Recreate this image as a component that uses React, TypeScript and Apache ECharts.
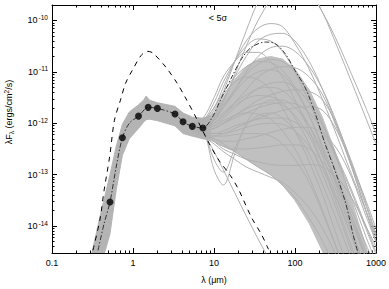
import React, { useEffect, useRef } from 'react';
import * as echarts from 'echarts';

// plotting unit for the flux axis (values are divided by it before plotting)
const Y_UNIT = 1e-15;
const FONT = 'Liberation Sans, Arial, sans-serif';
const GRAY = '#b4b4b4';
const LINE_GRAY = '#b0b0b0';
const CORE_GRAY = '#c0c0c0';

// observed photometry (wavelength in micron, log10 lambda*F_lambda)
const PHOT_WL = [0.52, 0.74, 1.17, 1.54, 2.0, 3.3, 4.15, 5.4, 7.3];
const PHOT_LOGF = [-13.53, -12.28, -11.86, -11.69, -11.71, -11.82, -11.97, -12.06, -12.09];

// best-fit model (dash-dot)
const BEST_WL = [0.37, 0.44, 0.52, 0.62, 0.74, 0.9, 1.17, 1.54, 2.0, 3.3, 4.15, 5.4, 7.3, 9.4, 12, 16.6, 22, 29, 43, 57, 76, 100, 133, 177, 234, 310, 413, 475, 522, 600];
const BEST_LOGF = [-14.47, -13.95, -13.53, -12.85, -12.28, -12.0, -11.86, -11.69, -11.71, -11.82, -11.97, -12.06, -12.09, -11.9, -11.55, -11.1, -10.74, -10.52, -10.42, -10.45, -10.65, -10.97, -11.3, -11.8, -12.39, -12.91, -13.5, -13.88, -14.17, -14.52];

// unextinguished stellar photosphere (dashed)
const STAR_WL = [0.32, 0.39, 0.44, 0.515, 0.59, 0.7, 0.81, 0.98, 1.26, 1.5, 1.75, 2.55, 3.44, 4.4, 6.2, 8.7, 11.5, 16, 20.3, 29, 38.8, 47];
const STAR_LOGF = [-14.47, -13.88, -13.3, -12.65, -11.94, -11.55, -11.22, -10.97, -10.68, -10.6, -10.63, -10.91, -11.2, -11.49, -11.93, -12.39, -12.72, -13.02, -13.3, -13.83, -14.17, -14.45];

// grey band of acceptable models in the optical / near-IR
const BAND_WL = [0.3, 0.4, 0.52, 0.62, 0.74, 0.9, 1.17, 1.35, 1.45, 1.6, 2.0, 3.3, 4.15, 5.4, 7.3, 9.0];
const BAND_HI = [-14.63, -13.75, -13.0, -12.45, -12.02, -11.78, -11.64, -11.55, -11.47, -11.55, -11.6, -11.67, -11.8, -11.88, -11.9, -11.85];
const BAND_LO = [-15.8, -14.78, -14.15, -13.3, -12.62, -12.3, -12.1, -11.98, -11.93, -11.92, -11.95, -12.05, -12.2, -12.25, -12.3, -12.3];

// acceptable models in the mid / far-IR
const MODEL_WL = [5.4, 7.3, 10, 13, 18, 25, 35, 50, 70, 100, 150, 220, 330, 500, 750, 1000];
const CORE_HI = [-11.95, -11.95, -11.8, -11.5, -11.15, -10.9, -10.75, -10.7, -10.75, -10.95, -11.35, -11.9, -12.65, -13.5, -14.4, -15.0];
const CORE_LO = [-12.2, -12.3, -12.35, -12.45, -12.55, -12.7, -12.85, -13.0, -13.2, -13.5, -13.95, -14.5, -15.1, -15.8, -16.5, -17.0];
const MODEL_LOGF = [
  [-12.05, -12.1, -11.9, -11.4, -10.8, -10.2, -9.65, -9.35, -9.15, -9.15, -9.4, -9.85, -10.5, -11.2, -11.9, -12.4],
  [-12.05, -12.1, -11.95, -11.6, -11.05, -10.5, -10.0, -9.6, -9.35, -9.3, -9.45, -9.85, -10.4, -11.05, -11.7, -12.2],
  [-12.0, -11.95, -11.7, -11.3, -10.8, -10.4, -10.15, -10.06, -10.12, -10.45, -10.95, -11.55, -12.25, -13.0, -13.7, -14.2],
  [-12.05, -12.0, -11.85, -11.55, -11.1, -10.7, -10.4, -10.27, -10.25, -10.4, -10.8, -11.35, -12.05, -12.85, -13.7, -14.3],
  [-12.0, -11.95, -11.6, -11.2, -10.8, -10.5, -10.36, -10.4, -10.6, -11.0, -11.6, -12.25, -13.0, -13.8, -14.6, -15.1],
  [-12.05, -12.05, -11.95, -11.7, -11.35, -11.0, -10.7, -10.53, -10.5, -10.6, -10.9, -11.35, -12.0, -12.8, -13.6, -14.2],
  [-12.0, -11.9, -11.5, -11.1, -10.8, -10.62, -10.62, -10.8, -11.1, -11.55, -12.15, -12.8, -13.6, -14.4, -15.2, -15.7],
  [-12.05, -12.05, -11.9, -11.65, -11.35, -11.05, -10.85, -10.76, -10.8, -11.0, -11.45, -12.0, -12.7, -13.45, -14.2, -14.7],
  [-12.05, -12.1, -12.0, -11.85, -11.6, -11.35, -11.1, -10.95, -10.9, -10.92, -11.1, -11.45, -12.1, -12.85, -13.7, -14.3],
  [-12.05, -12.05, -11.9, -11.7, -11.4, -11.15, -11.0, -10.96, -11.05, -11.35, -11.85, -12.45, -13.15, -13.9, -14.65, -15.2],
  [-12.05, -12.0, -11.75, -11.45, -11.2, -11.1, -11.15, -11.35, -11.7, -12.15, -12.75, -13.4, -14.2, -15.0, -15.8, -16.3],
  [-12.1, -12.1, -12.05, -11.9, -11.7, -11.5, -11.32, -11.22, -11.2, -11.3, -11.6, -12.05, -12.65, -13.3, -14.0, -14.5],
  [-12.1, -12.15, -12.1, -12.0, -11.85, -11.7, -11.55, -11.45, -11.38, -11.35, -11.38, -11.55, -12.05, -12.75, -13.55, -14.15],
  [-12.05, -12.1, -12.0, -11.85, -11.65, -11.52, -11.46, -11.48, -11.6, -11.9, -12.4, -13.0, -13.7, -14.5, -15.3, -15.8],
  [-12.1, -12.15, -12.1, -12.0, -11.85, -11.72, -11.63, -11.6, -11.65, -11.85, -12.25, -12.8, -13.45, -14.2, -14.95, -15.5],
  [-12.1, -12.15, -12.2, -12.2, -12.1, -12.0, -11.9, -11.82, -11.75, -11.7, -11.68, -11.75, -12.15, -12.8, -13.5, -14.05],
  [-12.05, -12.1, -12.05, -11.95, -11.85, -11.8, -11.82, -11.92, -12.15, -12.5, -13.05, -13.7, -14.45, -15.3, -16.0, -16.5],
  [-12.1, -12.2, -12.25, -12.2, -12.15, -12.08, -12.02, -12.0, -12.02, -12.15, -12.45, -12.9, -13.5, -14.2, -14.9, -15.4],
  [-12.1, -12.2, -12.25, -12.25, -12.22, -12.2, -12.2, -12.25, -12.4, -12.7, -13.15, -13.75, -14.45, -15.2, -16.0, -16.5],
  [-12.1, -12.2, -12.35, -12.45, -12.5, -12.5, -12.48, -12.45, -12.42, -12.42, -12.5, -12.75, -13.15, -13.7, -14.35, -14.8],
  [-12.1, -12.2, -12.3, -12.4, -12.55, -12.7, -12.85, -13.0, -13.2, -13.45, -13.85, -14.3, -14.9, -15.6, -16.3, -16.8],
  [-12.15, -12.25, -12.4, -12.55, -12.7, -12.85, -12.95, -13.05, -13.15, -13.35, -13.65, -14.05, -14.6, -15.2, -15.9, -16.4],
  [-12.0, -12.1, -12.9, -13.2, -12.6, -12.0, -11.7, -11.55, -11.55, -11.7, -12.05, -12.55, -13.2, -13.9, -14.6, -15.1],
  [-12.05, -12.15, -12.7, -12.95, -12.5, -12.05, -11.85, -11.8, -11.9, -12.15, -12.6, -13.2, -13.9, -14.65, -15.4, -15.9],
  [-12.05, -12.2, -12.55, -12.9, -13.35, -13.8, -14.25, -14.7, -15.2, -15.7, -16.3, -16.8, -17.4, -18.0, -18.6, -19.0],
  [-12.1, -12.2, -12.35, -12.5, -12.6, -12.7, -12.75, -12.8, -12.82, -12.82, -12.8, -12.85, -13.05, -13.45, -14.0, -14.4],
  [-12.1, -12.2, -12.3, -12.35, -12.35, -12.3, -12.25, -12.18, -12.12, -12.08, -12.08, -12.2, -12.5, -13.05, -13.8, -14.3],
  [-12.1, -12.15, -12.1, -12.0, -11.9, -11.8, -11.7, -11.63, -11.6, -11.62, -11.8, -12.15, -12.7, -13.35, -14.05, -14.55],
  [-12.0, -11.95, -11.7, -11.4, -11.1, -10.9, -10.8, -10.82, -10.97, -11.3, -11.85, -12.5, -13.25, -14.05, -14.85, -15.4],
  [-12.05, -12.05, -11.95, -11.8, -11.6, -11.45, -11.33, -11.3, -11.36, -11.6, -12.05, -12.65, -13.35, -14.1, -14.85, -15.4],
  [-12.1, -12.2, -12.2, -12.15, -12.05, -11.98, -11.92, -11.9, -11.9, -11.98, -12.2, -12.6, -13.15, -13.8, -14.5, -15.0],
];

const X_MIN = 0.1;
const X_MAX = 1000;
const Y_MIN = 3e-15;
const Y_MAX = 2e-10;

const toY = (logF: number) => Math.pow(10, logF) / Y_UNIT;
const pairs = (wl: number[], logf: number[]) => wl.map((w, i) => [w, toY(logf[i])]);

export default function App() {
  const ref = useRef<HTMLDivElement>(null);
  useEffect(() => {
    if (!ref.current) return;
    const chart = echarts.init(ref.current, undefined, { renderer: 'svg' });

    const axisLine = { show: true, lineStyle: { color: '#000', width: 1 } };
    const axisTick = { show: true, inside: true, length: 5, lineStyle: { color: '#000', width: 1 } };
    const minorTick = { show: true, splitNumber: 9, length: 2.5, lineStyle: { color: '#000', width: 1 } };

    const xFormatter = (v: number) => {
      const l = Math.log10(v);
      if (Math.abs(l - Math.round(l)) > 0.02) return '';
      return String(+v.toPrecision(3));
    };
    const yFormatter = (v: number) => {
      const l = Math.log10(v);
      const e = Math.round(l);
      if (Math.abs(l - e) > 0.02) return '';
      const exp = e + Math.round(Math.log10(Y_UNIT));
      return `{b|10}{s|${exp}}`;
    };

    const fillSeries = {
      type: 'custom',
      silent: true,
      z: 1,
      data: [[1, 100]],
      renderItem: (params: any, api: any) => {
        const cs = params.coordSys;
        const poly = (wl: number[], hi: number[], lo: number[], color: string) => {
          const pts: number[][] = [];
          for (let i = 0; i < wl.length; i++) pts.push(api.coord([wl[i], toY(hi[i])]));
          for (let i = wl.length - 1; i >= 0; i--) pts.push(api.coord([wl[i], toY(lo[i])]));
          return { type: 'polygon', shape: { points: pts, smooth: 0 }, style: { fill: color, stroke: color, lineWidth: 1 } };
        };
        return {
          type: 'group',
          clipPath: { type: 'rect', shape: { x: cs.x, y: cs.y, width: cs.width, height: cs.height } },
          children: [poly(MODEL_WL, CORE_HI, CORE_LO, CORE_GRAY), poly(BAND_WL, BAND_HI, BAND_LO, GRAY)],
        };
      },
    };

    const modelSeries = MODEL_LOGF.map((m) => ({
      type: 'line',
      silent: true,
      z: 2,
      data: pairs(MODEL_WL, m),
      showSymbol: false,
      symbol: 'none',
      smooth: 0.35,
      clip: true,
      lineStyle: { color: LINE_GRAY, width: 1 },
    }));

    const option: any = {
      animation: false,
      grid: { left: 52, right: 10, top: 5, bottom: 36, containLabel: false },
      xAxis: [
        {
          type: 'log', logBase: 10, min: X_MIN, max: X_MAX, position: 'bottom',
          axisLine, axisTick, minorTick, splitLine: { show: false }, minorSplitLine: { show: false },
          axisLabel: { formatter: xFormatter, color: '#000', fontSize: 9, margin: 5, fontFamily: FONT },
          name: 'λ (μm)', nameLocation: 'middle', nameGap: 22,
          nameTextStyle: { color: '#000', fontSize: 9, fontFamily: FONT },
        },
        {
          type: 'log', logBase: 10, min: X_MIN, max: X_MAX, position: 'top',
          axisLine, axisTick, minorTick, splitLine: { show: false },
          axisLabel: { show: false },
        },
      ],
      yAxis: [
        {
          type: 'log', logBase: 10, min: Y_MIN / Y_UNIT, max: Y_MAX / Y_UNIT, position: 'left',
          axisLine, axisTick, minorTick, splitLine: { show: false }, minorSplitLine: { show: false },
          axisLabel: {
            formatter: yFormatter, color: '#000', margin: 4, fontFamily: FONT,
            rich: {
              b: { fontSize: 9, fontFamily: FONT, color: '#000' },
              s: { fontSize: 6.5, fontFamily: FONT, color: '#000', padding: [0, 0, 6, 1] },
            },
          },
        },
        {
          type: 'log', logBase: 10, min: Y_MIN / Y_UNIT, max: Y_MAX / Y_UNIT, position: 'right',
          axisLine, axisTick, minorTick, splitLine: { show: false },
          axisLabel: { show: false },
        },
      ],
      graphic: [
        {
          type: 'text', x: 9, y: 112, rotation: Math.PI / 2,
          style: {
            text: 'λF{s|λ} (ergs/cm{p|2}/s)', fill: '#000', font: `9px ${FONT}`,
            align: 'center', verticalAlign: 'middle',
            rich: {
              s: { fontSize: 6.5, fontFamily: FONT, padding: [4, 0, 0, 0] },
              p: { fontSize: 6.5, fontFamily: FONT, padding: [0, 0, 5, 0] },
            },
          },
        },
        {
          type: 'text', x: 218, y: 18,
          style: { text: '< 5σ', fill: '#000', font: `9px ${FONT}`, align: 'center', verticalAlign: 'middle' },
        },
      ],
      series: [
        fillSeries,
        ...modelSeries,
        {
          type: 'line', silent: true, z: 3, data: pairs(STAR_WL, STAR_LOGF),
          showSymbol: false, symbol: 'none', smooth: 0.3, clip: true,
          lineStyle: { color: '#000', width: 1, type: [5, 5] },
        },
        {
          type: 'line', silent: true, z: 4, data: pairs(BEST_WL, BEST_LOGF),
          showSymbol: false, symbol: 'none', smooth: 0.3, clip: true,
          lineStyle: { color: '#333', width: 1, type: [5, 2, 1.5, 2] },
        },
        {
          type: 'scatter', silent: true, z: 5, data: pairs(PHOT_WL, PHOT_LOGF),
          symbol: 'circle', symbolSize: 7, itemStyle: { color: '#000' },
        },
      ],
    };

    chart.setOption(option);
    return () => chart.dispose();
  }, []);

  return (
    <div
      ref={ref}
      style={{ position: 'fixed', left: 0, top: 0, width: 389, height: 289, background: '#fff' }}
    />
  );
}
